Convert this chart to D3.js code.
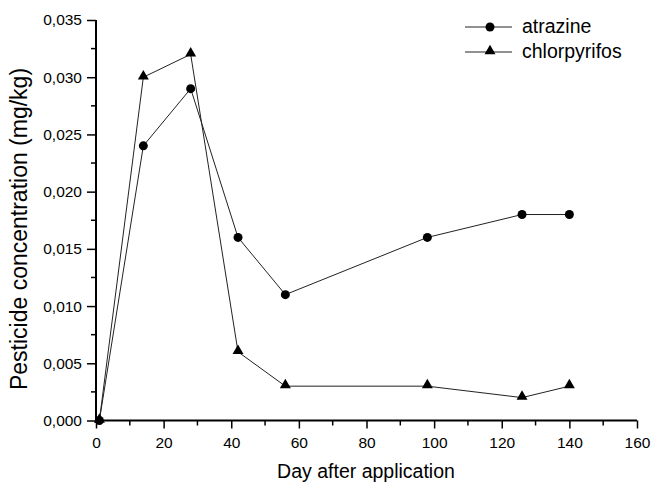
<!DOCTYPE html>
<html><head><meta charset="utf-8">
<script src="https://cdn.jsdelivr.net/npm/d3@7"></script>
<style>body{margin:0;background:#fff}svg{display:block}text{font-family:Arial,"Liberation Sans",sans-serif;fill:#000}</style>
</head><body><div id="chart"></div>
<script>
const days = [1, 14, 28, 42, 56, 98, 126, 140];
const atrazine = [0, 0.024, 0.029, 0.016, 0.011, 0.016, 0.018, 0.018];
const chlorpyrifos = [0, 0.030, 0.032, 0.006, 0.003, 0.003, 0.002, 0.003];
const seriesNames = ["atrazine", "chlorpyrifos"];
const xTicks = [0, 20, 40, 60, 80, 100, 120, 140, 160];
const yTicks = [0, 0.005, 0.010, 0.015, 0.020, 0.025, 0.030, 0.035];

const W = 652, H = 483;
const svg = d3.select("#chart").append("svg").attr("width", W).attr("height", H);
const x = d3.scaleLinear().domain([0, 160]).range([96, 637]);
const y = d3.scaleLinear().domain([0, 0.035]).range([420.5, 20]);
const fmtY = v => d3.format(".3f")(v).replace(".", ",");

// minor ticks
svg.append("g").selectAll("line").data(d3.range(10, 160, 20)).join("line")
  .attr("x1", d => x(d)).attr("x2", d => x(d)).attr("y1", y(0)).attr("y2", y(0) + 5)
  .attr("stroke", "#000").attr("stroke-width", 1.5);
svg.append("g").selectAll("line").data(d3.range(0.0025, 0.035, 0.005)).join("line")
  .attr("x1", x(0) - 5).attr("x2", x(0)).attr("y1", d => y(d)).attr("y2", d => y(d))
  .attr("stroke", "#000").attr("stroke-width", 1.5);

const xAxis = svg.append("g").attr("transform", `translate(0,${y(0)})`)
  .call(d3.axisBottom(x).tickValues(xTicks).tickSize(8).tickPadding(8));
const yAxis = svg.append("g").attr("transform", `translate(${x(0)},0)`)
  .call(d3.axisLeft(y).tickValues(yTicks).tickFormat(fmtY).tickSize(9).tickPadding(5));
[xAxis, yAxis].forEach(g => {
  g.select(".domain").attr("stroke-width", 2).attr("stroke", "#000");
  g.selectAll(".tick line").attr("stroke-width", 1.5).attr("stroke", "#000");
  g.selectAll("text").attr("font-size", 15.5).attr("font-family", "Arial, 'Liberation Sans', sans-serif").attr("fill", "#000");
});
xAxis.selectAll(".domain").attr("d", `M${x(0)},0H${x(160)}`);
yAxis.selectAll(".domain").attr("d", `M0,${y(0)}V${y(0.035)}`);

svg.append("text").attr("x", 366).attr("y", 478).attr("text-anchor", "middle")
  .attr("font-size", 19.5).text("Day after application");
svg.append("text").attr("transform", `translate(27,229) rotate(-90)`)
  .attr("text-anchor", "middle").attr("font-size", 23).text("Pesticide concentration (mg/kg)");

const line = d3.line().x((d, i) => x(days[i])).y(d => y(d));
const tri = d3.symbol().type(d3.symbolTriangle).size(52);
function drawSeries(vals, kind) {
  svg.append("path").datum(vals).attr("d", line).attr("fill", "none").attr("stroke", "#222").attr("stroke-width", 1);
  const g = svg.append("g");
  vals.forEach((v, i) => {
    if (kind === 0) g.append("circle").attr("cx", x(days[i])).attr("cy", y(v)).attr("r", 4.5).attr("fill", "#000");
    else g.append("path").attr("d", tri).attr("transform", `translate(${x(days[i])},${y(v) - 1})`).attr("fill", "#000");
  });
}
drawSeries(atrazine, 0);
drawSeries(chlorpyrifos, 1);

// legend
seriesNames.forEach((name, k) => {
  const ly = 27 + k * 25;
  svg.append("line").attr("x1", 465).attr("x2", 512).attr("y1", ly).attr("y2", ly).attr("stroke", "#222");
  if (k === 0) svg.append("circle").attr("cx", 490).attr("cy", ly).attr("r", 4.5).attr("fill", "#000");
  else svg.append("path").attr("d", tri).attr("transform", `translate(490,${ly - 1})`).attr("fill", "#000");
  svg.append("text").attr("x", 522).attr("y", ly + 6).attr("font-size", 19.5).text(name);
});
</script></body></html>
